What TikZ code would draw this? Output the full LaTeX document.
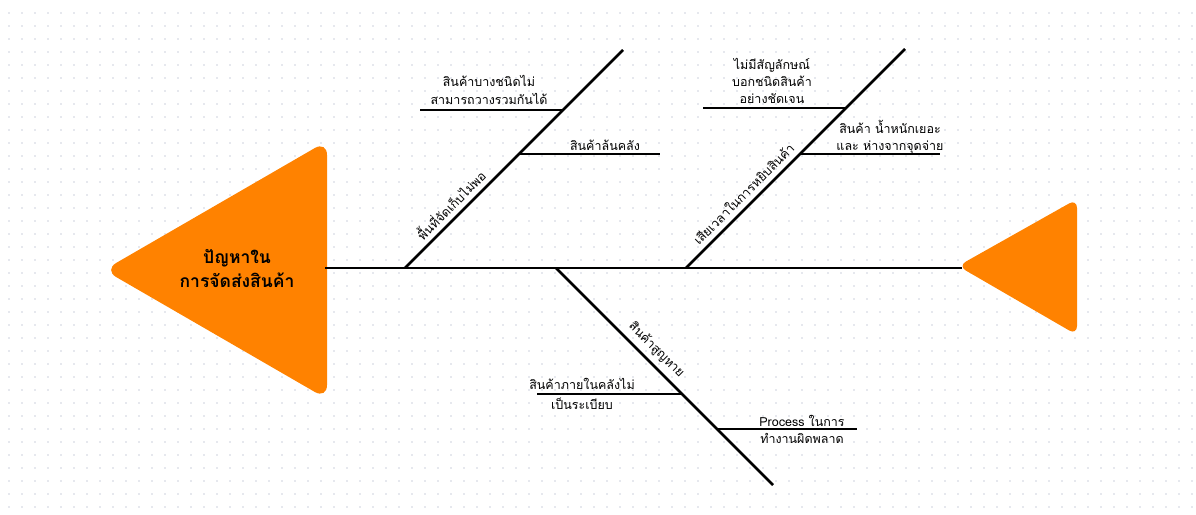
\documentclass[tikz,border=0pt]{standalone}
\usepackage{fontspec}
\setmainfont[Script=Thai]{Loma}
\usetikzlibrary{positioning}
\definecolor{headorange}{HTML}{FF8200}
\definecolor{griddot}{HTML}{CDD0DC}
\tikzset{
  bone/.style={line width=2.6pt},
  twig/.style={line width=2.6pt},
  head/.style={fill=headorange, rounded corners=14pt},
  tail/.style={fill=headorange, rounded corners=9pt},
  cause/.style={
    font=\fontsize{12.5}{18}\selectfont,
    align=center, inner sep=1pt
  },
  bonelabel/.style={
    font=\fontsize{12.5}{16}\selectfont,
    sloped, above, inner sep=5pt
  },
  problem/.style={
    font=\fontsize{17.5}{24}\selectfont\bfseries,
    align=center
  }
}

\begin{document}
\begin{tikzpicture}[x=1pt,y=-1pt]
  \useasboundingbox (0,0) rectangle (1196,514);
  % dotted paper
  \foreach \i in {0,...,91}
    \foreach \j in {0,...,38}
      \fill[griddot] (9+13*\i,13+13*\j) circle (0.9);

  % head and tail
  \path[head] (104,270) -- (327,141) -- (327,399) -- cycle;
  \node[problem] (problem) at (237,268) {ปัญหาใน\\การจัดส่งสินค้า};
  \path[tail] (958,266) -- (1077,199) -- (1077,335) -- cycle;

  % spine
  \coordinate (spine start) at (325,268);
  \coordinate (spine end) at (962,268);
  \draw[bone] (spine start) -- (spine end);

  % bones
  \coordinate (b1 foot) at (405,268);
  \coordinate (b1 top) at (623,50);
  \coordinate (b2 foot) at (686,268);
  \coordinate (b2 top) at (905,49);
  \coordinate (b3 foot) at (556,268);
  \coordinate (b3 end) at (773,485);

  \draw[bone] (b1 foot) -- node[bonelabel,pos=.25] (space) {พื้นที่จัดเก็บไม่พอ} (b1 top);
  \draw[bone] (b2 foot) -- node[bonelabel,pos=.3] (picking) {เสียเวลาในการหยิบสินค้า} (b2 top);
  \draw[bone] (b3 foot) -- node[bonelabel,pos=.42] (lost) {สินค้าสูญหาย} (b3 end);

  % twigs
  \coordinate (t11) at (420,110);  \coordinate (j11) at (563,110);
  \coordinate (j12) at (519,154);  \coordinate (t12) at (660,154);
  \coordinate (t21) at (703,108);  \coordinate (j21) at (846,108);
  \coordinate (j22) at (800,154);  \coordinate (t22) at (940,154);
  \coordinate (t31) at (537,394);  \coordinate (j31) at (682,394);
  \coordinate (j32) at (717,429);  \coordinate (t32) at (857,429);

  \draw[twig] (t11) -- (j11);
  \draw[twig] (j12) -- (t12);
  \draw[twig] (t21) -- (j21);
  \draw[twig] (j22) -- (t22);
  \draw[twig] (t31) -- (j31);
  \draw[twig] (j32) -- (t32);

  % causes
  \node[cause] (c11) at (489,90) {สินค้าบางชนิดไม่\\สามารถวางรวมกันได้};
  \node[cause] (c12) at (605,145) {สินค้าล้นคลัง};
  \node[cause,font=\fontsize{12.5}{17}\selectfont] (c21) at (772,81) {ไม่มีสัญลักษณ์\\บอกชนิดสินค้า\\อย่างชัดเจน};
  \node[cause,font=\fontsize{12.5}{16.5}\selectfont] (c22) at (890,137) {สินค้า น้ำหนักเยอะ\\และ ห่างจากจุดจ่าย};
  \node[cause,font=\fontsize{12.5}{19.5}\selectfont] (c31) at (582,394) {สินค้าภายในคลังไม่\\เป็นระเบียบ};
  \node[cause,font=\fontsize{12.5}{17}\selectfont] (c32) at (802,429) {Process ในการ\\ทำงานผิดพลาด};
\end{tikzpicture}
\end{document}
